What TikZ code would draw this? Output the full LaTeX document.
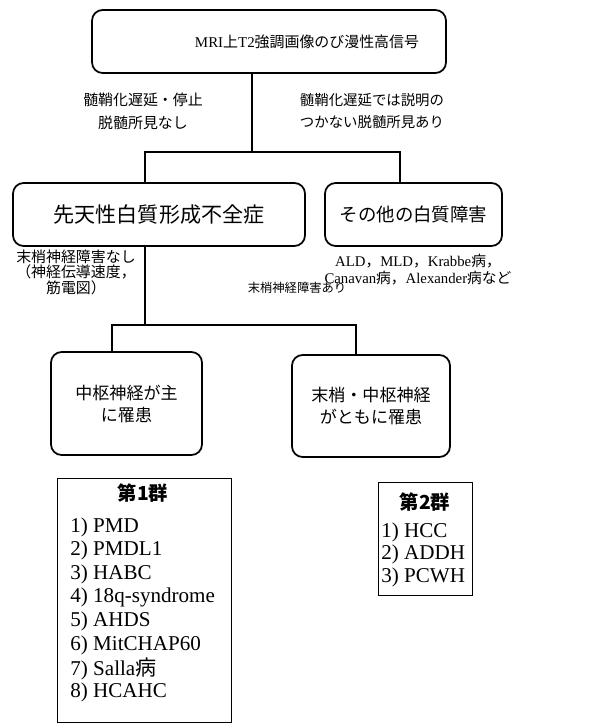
\documentclass[tikz,border=0pt]{standalone}
\usepackage{fontspec}
\setmainfont{Liberation Serif}
\newfontfamily\jp{Noto Sans CJK JP}
\tikzset{
  rbox/.style={draw, line width=1pt, rounded corners=6pt, inner sep=0pt, align=center},
  gbox/.style={draw, line width=0.5pt, inner sep=0pt},
  lab/.style={align=center, inner sep=0pt},
  item/.style={anchor=west, inner sep=0pt, font=\fontsize{12}{14}\selectfont},
  conn/.style={line width=0.8pt},
}
\begin{document}
\begin{tikzpicture}[x=0.02cm,y=-0.02cm]
\useasboundingbox (0,0) rectangle (601,726);
\node[rbox, minimum width=7.08cm, minimum height=1.26cm] (mri) at (269,41.5) {};
\node[lab, font=\fontsize{8.5}{10}\selectfont] (mrit) at (307,41.5) {MRI{\jp 上}T2{\jp 強調画像のび漫性高信号}};
\node[rbox, minimum width=5.84cm, minimum height=1.26cm, font=\jp\fontsize{12}{14}\selectfont] (cong) at (159,214.5) {先天性白質形成不全症};
\node[rbox, minimum width=3.54cm, minimum height=1.26cm, font=\jp\fontsize{10.5}{12}\selectfont] (other) at (413.5,214.5) {その他の白質障害};
\node[rbox, minimum width=3.02cm, minimum height=2.06cm, font=\jp\fontsize{9.7}{12.5}\selectfont] (cns) at (126.5,403.5) {中枢神経が主\\に罹患};
\node[rbox, minimum width=3.16cm, minimum height=2.04cm, font=\jp\fontsize{9.7}{12.5}\selectfont] (both) at (371,406) {末梢・中枢神経\\がともに罹患};

\coordinate (j1) at (252,152);
\coordinate (j1l) at (145,152);
\coordinate (j1r) at (400,152);
\coordinate (j2) at (145,325);
\coordinate (j2l) at (112,325);
\coordinate (j2r) at (356,325);
\draw [conn] (mri.south -| j1) -- (j1);
\draw [conn] (j1l |- cong.north) -- (j1l) -- (j1r) -- (j1r |- other.north);
\draw [conn] (j2 |- cong.south) -- (j2);
\draw [conn] (j2l |- cns.north) -- (j2l) -- (j2r) -- (j2r |- both.north);

\node[lab, font=\jp\fontsize{8.5}{13}\selectfont] (l1) at (143,111) {髄鞘化遅延・停止\\脱髄所見なし};
\node[lab, font=\jp\fontsize{8.2}{13}\selectfont] (l2) at (372,111) {髄鞘化遅延では説明の\\つかない脱髄所見あり};
\node[lab, font=\jp\fontsize{8.5}{8.8}\selectfont] (l3) at (76,272) {末梢神経障害なし\\（神経伝導速度，\\筋電図）};
\node[lab, font=\jp\fontsize{7}{8}\selectfont] (l4) at (297,288) {末梢神経障害あり};
\node[lab, font=\fontsize{8.4}{9.6}\selectfont] (l5) at (418,270) {ALD{\jp ，}MLD{\jp ，}Krabbe{\jp 病，}\\Canavan{\jp 病，}Alexander{\jp 病など}};

\node[gbox, minimum width=3.48cm, minimum height=4.88cm] (g1) at (144,600) {};
\node[lab, font=\jp\bfseries\fontsize{11}{12}\selectfont] (g1t) at (143,493) {第1群};
\foreach \t [count=\k] in {PMD,PMDL1,HABC,18q-syndrome,AHDS,MitCHAP60,Salla{\jp 病},HCAHC}
  \node[item] (a\k) at (70,{527+23.6*(\k-1)}) {\k) \t};

\node[gbox, minimum width=1.88cm, minimum height=2.26cm] (g2) at (425,538.5) {};
\node[lab, font=\jp\bfseries\fontsize{11}{12}\selectfont] (g2t) at (425,502) {第2群};
\foreach \t [count=\k] in {HCC,ADDH,PCWH}
  \node[item] (b\k) at (381,{532+22.5*(\k-1)}) {\k) \t};
\end{tikzpicture}
\end{document}
